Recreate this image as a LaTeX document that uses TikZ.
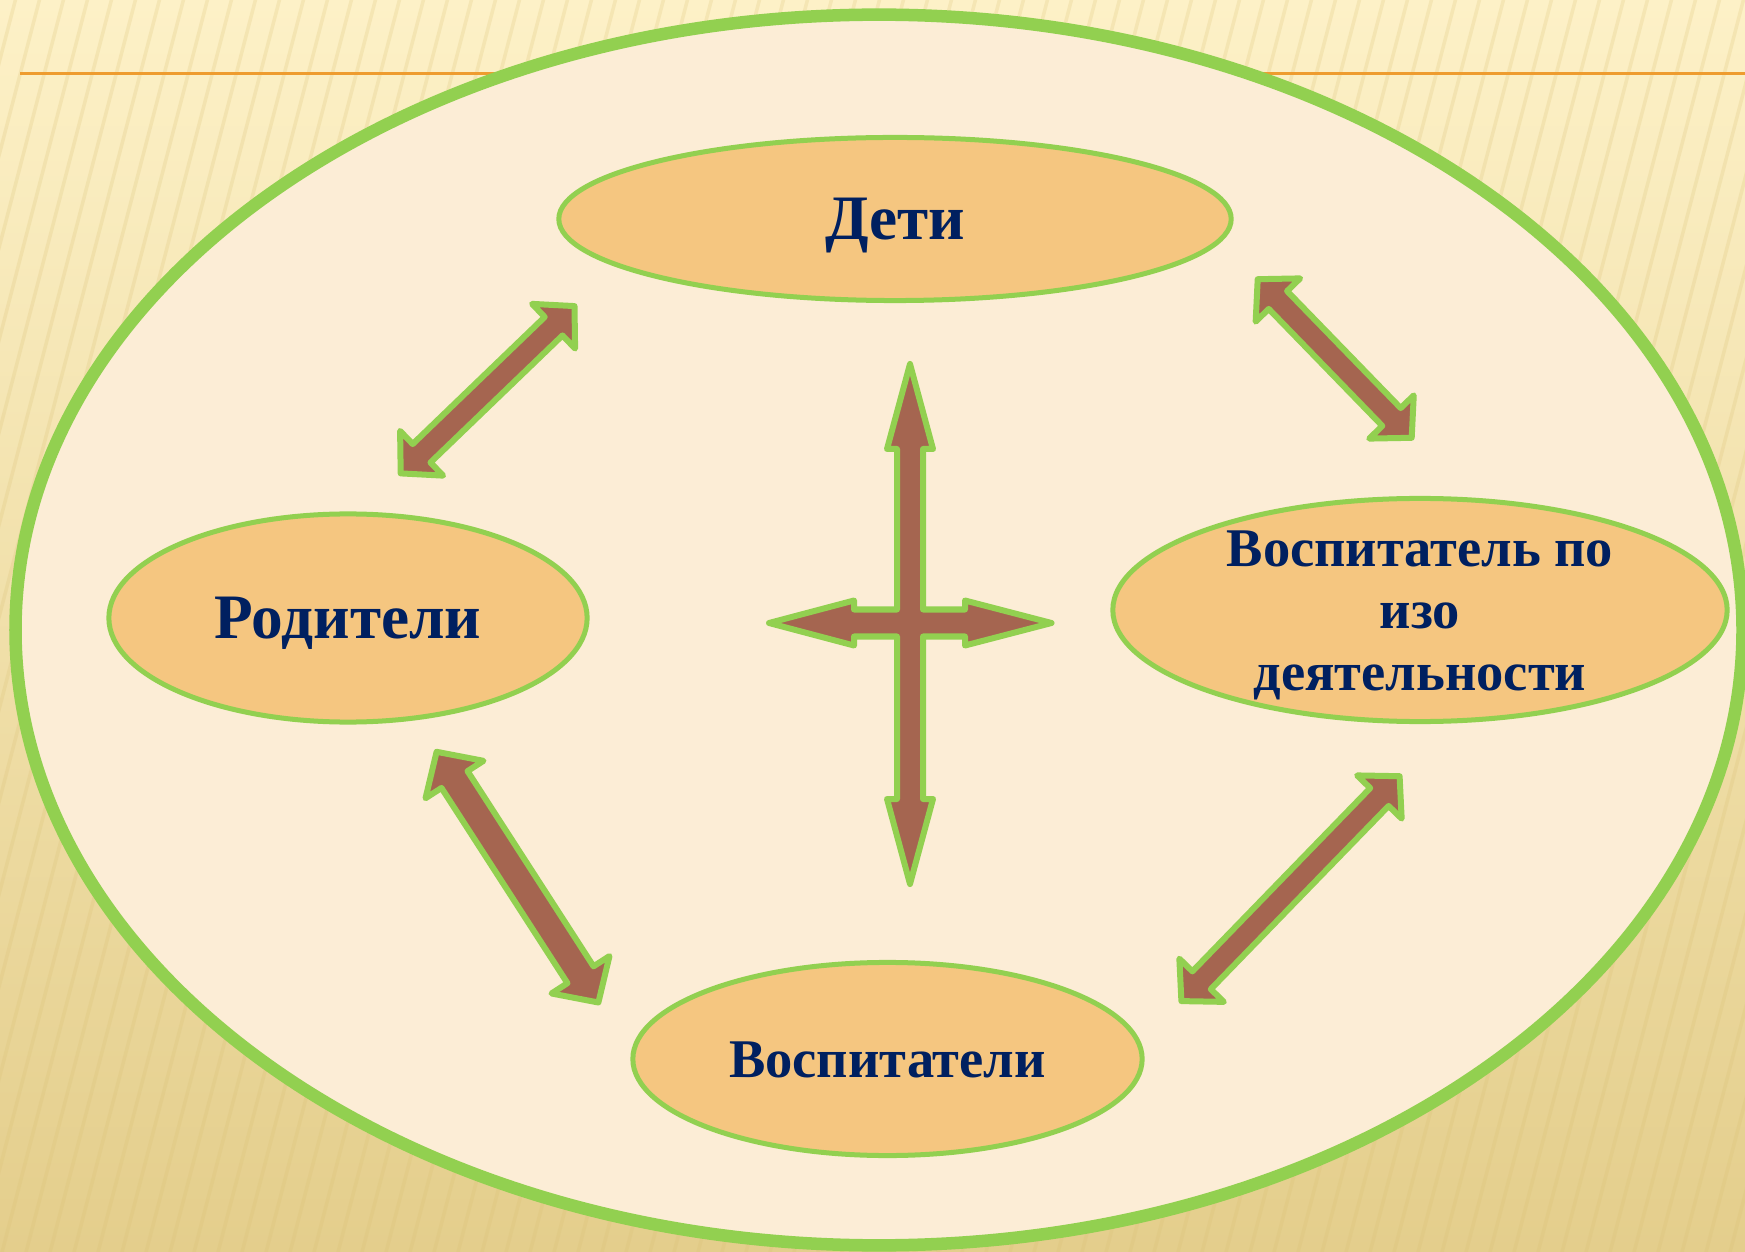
\documentclass[tikz,border=0pt]{standalone}
\usepackage{fontspec}
\setmainfont{Liberation Serif}
\usetikzlibrary{calc,shapes.geometric}
\definecolor{bgtop}{HTML}{FDF1C7}
\definecolor{bgmid}{HTML}{F7E7B2}
\definecolor{bgbot}{HTML}{E4CE8C}
\definecolor{stripecol}{HTML}{D9BF72}
\definecolor{cream}{HTML}{FCEDD6}
\definecolor{leafgreen}{HTML}{92D050}
\definecolor{nodefill}{HTML}{F5C680}
\definecolor{navy}{HTML}{002060}
\definecolor{brownarrow}{HTML}{A56550}
\definecolor{orangeline}{HTML}{EE9C2F}
\tikzset{
  unitnode/.style={ellipse, draw=leafgreen, line width=0.05cm, fill=nodefill,
    inner sep=0pt, text=navy},
  bigtext/.style={font=\fontsize{18}{20}\selectfont\bfseries, text height=11.9pt, text depth=0pt},
  midtext/.style={font=\fontsize{15.5}{17.6}\selectfont\bfseries, text height=10.26pt, text depth=0pt},
  multitext/.style={font=\fontsize{15.5}{17.6}\selectfont\bfseries, align=center},
  blockarrow/.style={draw=leafgreen, fill=brownarrow, line width=0.06cm, line join=round},
  stripeline/.style={draw=stripecol, line width=0.035cm, opacity=0.22}
}
% #1 name, #2 tip A, #3 tip B, #4 shaft half width, #5 head half width, #6 head length
\newcommand\blockarr[6]{%
  \coordinate (#1ha) at ($(#2)!#6!(#3)$);
  \coordinate (#1hb) at ($(#3)!#6!(#2)$);
  \draw[blockarrow] (#2) -- ($(#1ha)!#5!90:(#3)$) -- ($(#1ha)!#4!90:(#3)$)
    -- ($(#1hb)!#4!-90:(#2)$) -- ($(#1hb)!#5!-90:(#2)$) -- (#3)
    -- ($(#1hb)!#5!90:(#2)$) -- ($(#1hb)!#4!90:(#2)$)
    -- ($(#1ha)!#4!-90:(#3)$) -- ($(#1ha)!#5!-90:(#3)$) -- cycle;}
\begin{document}
\begin{tikzpicture}[x=0.01cm,y=-0.01cm]
\useasboundingbox (0,0) rectangle (1745,1252);
\clip (0,0) rectangle (1745,1252);
% background
\fill[top color=bgtop, middle color=bgmid, bottom color=bgbot] (0,0) rectangle (1745,1252);
\foreach \i in {-20,...,80} {
  \draw[stripeline] (\i*24,1260) -- (\i*24+330,-10);
}
% orange rule
\draw[orangeline, line width=0.033cm] (20,73.5) -- (1745,73.5);
% big frame
\node[ellipse, draw=leafgreen, fill=cream, line width=0.125cm, inner sep=0pt,
  minimum width=17.26cm, minimum height=12.30cm] (frame) at (879,630) {};
% units
\node[unitnode, bigtext, minimum width=6.72cm, minimum height=1.63cm] (deti) at (895,219) {Дети};
\node[unitnode, bigtext, minimum width=4.78cm, minimum height=2.08cm] (rod) at (348,618) {Родители};
\node[unitnode, minimum width=6.14cm, minimum height=2.23cm] (izo) at (1420,610) {};
\node[multitext, text=navy, inner sep=0pt] (izotext) at ($(izo.center)+(0,5)$) {Воспитатель по\\изо\\деятельности};
\node[unitnode, midtext, minimum width=5.09cm, minimum height=1.93cm] (vosp) at (887.5,1059) {Воспитатели};
% block arrows
\coordinate (a1s) at (574.5,306.1);
\coordinate (a1e) at (400.7,473.4);
\coordinate (a2s) at (1257.7,279.2);
\coordinate (a2e) at (1411.7,437.8);
\coordinate (a3s) at (436.6,751.8);
\coordinate (a3e) at (598.4,1002.5);
\coordinate (a4s) at (1399.6,776.2);
\coordinate (a4e) at (1181.4,1001.1);
\blockarr{a1}{a1s}{a1e}{0.128cm}{0.31cm}{0.29cm}
\blockarr{a2}{a2s}{a2e}{0.128cm}{0.31cm}{0.29cm}
\blockarr{a3}{a3s}{a3e}{0.155cm}{0.345cm}{0.33cm}
\blockarr{a4}{a4s}{a4e}{0.128cm}{0.31cm}{0.29cm}
% central cross
\coordinate (cross) at (910,623);
\begin{scope}[shift={(cross)}]
\draw[blockarrow] (0,-259) -- (23,-174) -- (13,-174) -- (13,-13.5) -- (55,-13.5) -- (55,-22.5)
  -- (141.5,0) -- (55,22.5) -- (55,13.5) -- (13,13.5) -- (13,176) -- (23,176)
  -- (0,261) -- (-23,176) -- (-13,176) -- (-13,13.5) -- (-56,13.5) -- (-56,22.5)
  -- (-141,0) -- (-56,-22.5) -- (-56,-13.5) -- (-13,-13.5) -- (-13,-174) -- (-23,-174) -- cycle;
\end{scope}
\end{tikzpicture}
\end{document}
